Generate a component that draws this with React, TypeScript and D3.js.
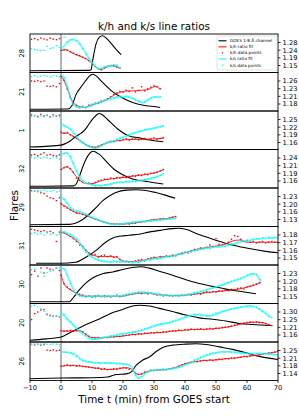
import React from "react";
import * as d3 from "d3";

const W = 299;
const H = 420;
const X0 = 30;
const X1 = 278;
const TOP = 34;
const PH = 38.5;
const FONT = "DejaVu Sans, sans-serif";

const flares = ["28", "21", "1", "32", "29", "31", "30", "20", "26"];
const tickLo = [1.15, 1.18, 1.16, 1.16, 1.13, 1.148, 1.15, 1.16, 1.14];
const tickHi = [1.28, 1.26, 1.25, 1.24, 1.23, 1.18, 1.23, 1.3, 1.25];
const xTicks = [-10, 0, 10, 20, 30, 40, 50, 60, 70];
const legendLabels = ["GOES 1-8 Å channel", "k/h ratio fit", "k/h data points", "k/s ratio fit", "k/s data points"];

type P = [number, number];

// ---------- flare 28 ----------
const goes28: P[] = [[-10, 0], [9, 0.01], [9.7, 0.03], [10.2, 0.28], [10.75, 0.55], [11.3, 0.77], [12.4, 0.96], [13.4, 1.0], [14.5, 0.94], [16.1, 0.79], [17.7, 0.62], [19.4, 0.46]];
const khFit28: P[] = [[0, 1.234], [1.6, 1.239], [3.2, 1.225], [4.8, 1.211], [6.5, 1.2], [8.1, 1.187], [9.7, 1.168], [11.3, 1.14], [12.9, 1.126], [14.5, 1.14], [16.7, 1.149], [18.3, 1.14], [18.8, 1.134]];
const ksFit28: P[] = [[0, 1.243], [1.6, 1.271], [3.2, 1.296], [4.8, 1.294], [5.9, 1.275], [7.5, 1.234], [9.1, 1.187], [10.75, 1.153], [11.8, 1.134], [12.9, 1.133], [14.5, 1.145], [16.1, 1.145], [17.7, 1.153], [18.8, 1.134]];
const khPre28 = [1.298, 1.302, 1.296, 1.305, 1.3, 1.295, 1.304, 1.299, 1.296, 1.302];
const ksPre28 = [1.245, 1.24, 1.236, 1.234, 1.236, 1.258, 1.246, 1.25, 1.262, 1.252];
const khPts28 = [1.236, 1.24, 1.236, 1.228, 1.22, 1.212, 1.206, 1.196, 1.19, 1.178, 1.16, 1.145, 1.132, 1.126, 1.136, 1.145, 1.15, 1.146, 1.14, 1.135];
const ksPts28 = [1.246, 1.31, 1.285, 1.295, 1.298, 1.29, 1.27, 1.245, 1.215, 1.19, 1.165, 1.145, 1.132, 1.135, 1.142, 1.146, 1.148, 1.155, 1.15, 1.136];

// ---------- flare 21 ----------
const goes21: P[] = [[-10, 0], [2.2, 0.005], [3.5, 0.1], [4.8, 0.41], [7, 0.7], [8.6, 0.89], [9.6, 0.98], [10.2, 1.0], [11.2, 0.96], [13.5, 0.76], [16.5, 0.51], [19.9, 0.32], [23.1, 0.19], [27.4, 0.1], [30.6, 0.07], [32, 0.05]];
const khFit21: P[] = [[0, 1.279], [1.1, 1.258], [2.2, 1.229], [3.2, 1.2], [4.3, 1.18], [5.9, 1.171], [7.5, 1.168], [9.1, 1.174], [11.3, 1.181], [13.4, 1.189], [15.6, 1.2], [17.2, 1.212], [18.8, 1.22], [21, 1.225], [24, 1.226], [26, 1.228], [28, 1.23], [29.5, 1.238], [30.5, 1.241], [31.9, 1.232]];
const ksFit21: P[] = [[0, 1.284], [1.1, 1.27], [2.2, 1.235], [3.2, 1.195], [4.3, 1.175], [5.9, 1.168], [8, 1.168], [10.2, 1.176], [12.4, 1.185], [14.5, 1.193], [16.7, 1.199], [19, 1.205], [21, 1.206], [23, 1.2], [25, 1.19], [26.5, 1.185], [28.5, 1.198], [30, 1.204], [31.9, 1.204]];
const khPre21 = [1.26, 1.259, 1.261, 1.258, 1.26, 1.242, 1.241, 1.243, 1.24, 1.251];
const ksPre21 = [1.275, 1.278, 1.274, 1.277, 1.279, 1.276, 1.274, 1.278, 1.277, 1.275];
const khPts21 = [1.276, 1.262, 1.232, 1.205, 1.184, 1.176, 1.17, 1.172, 1.167, 1.176, 1.178, 1.183, 1.182, 1.19, 1.192, 1.198, 1.205, 1.213, 1.218, 1.224, 1.221, 1.228, 1.224, 1.236, 1.222, 1.227, 1.24, 1.226, 1.233, 1.238, 1.244, 1.24, 1.233];
const ksPts21 = [1.283, 1.272, 1.24, 1.2, 1.178, 1.17, 1.166, 1.169, 1.168, 1.172, 1.18, 1.181, 1.187, 1.186, 1.194, 1.195, 1.2, 1.203, 1.205, 1.208, 1.204, 1.207, 1.203, 1.199, 1.193, 1.188, 1.186, 1.188, 1.195, 1.2, 1.206, 1.203, 1.205];

// ---------- flare 1 ----------
const goes1: P[] = [[-10, 0.02], [-5, 0.04], [0, 0.075], [2.6, 0.17], [4.5, 0.3], [5.8, 0.38], [7, 0.45], [8.2, 0.57], [9.5, 0.74], [10.6, 0.86], [11.6, 0.95], [12.4, 0.98], [13.2, 0.95], [15.1, 0.8], [18.4, 0.53], [21.6, 0.35], [25.9, 0.27], [30.2, 0.2], [33, 0.17]];
const khFit1: P[] = [[0, 1.197], [1.6, 1.197], [3.2, 1.19], [4.8, 1.178], [6.45, 1.164], [8.1, 1.151], [9.7, 1.142], [11.3, 1.142], [12.9, 1.149], [14.5, 1.158], [16.7, 1.164], [18.8, 1.168], [21, 1.171], [23.1, 1.172], [25.3, 1.172], [27.4, 1.173], [30.1, 1.174], [33, 1.177]];
const ksFit1: P[] = [[0, 1.233], [1.6, 1.223], [3.2, 1.21], [4.8, 1.187], [6.45, 1.164], [8.1, 1.151], [9.7, 1.142], [11.3, 1.138], [12.9, 1.145], [14.5, 1.158], [16.7, 1.164], [18.8, 1.174], [21, 1.186], [23.1, 1.195], [25.3, 1.203], [27.4, 1.21], [30.1, 1.215], [33, 1.225]];
const khPre1 = [1.268, 1.265, 1.262, 1.27, 1.264, 1.266, 1.261, 1.268, 1.263, 1.267];
const ksPre1 = [1.262, 1.266, 1.258, 1.264, 1.26, 1.267, 1.259, 1.263, 1.265, 1.26];
const khPts1 = [1.2, 1.196, 1.199, 1.19, 1.183, 1.176, 1.168, 1.16, 1.152, 1.147, 1.143, 1.14, 1.146, 1.15, 1.155, 1.16, 1.165, 1.163, 1.17, 1.167, 1.172, 1.175, 1.169, 1.174, 1.177, 1.17, 1.173, 1.176, 1.171, 1.175, 1.178, 1.172, 1.176, 1.179];
const ksPts1 = [1.234, 1.226, 1.22, 1.212, 1.195, 1.18, 1.168, 1.158, 1.15, 1.145, 1.14, 1.136, 1.142, 1.148, 1.155, 1.16, 1.163, 1.168, 1.172, 1.177, 1.18, 1.186, 1.19, 1.196, 1.198, 1.203, 1.206, 1.21, 1.212, 1.214, 1.217, 1.22, 1.222, 1.226];

// ---------- flare 32 ----------
const goes32: P[] = [[-10, 0], [4, 0.01], [4.8, 0.05], [5.9, 0.27], [7, 0.55], [8.1, 0.78], [9.2, 0.93], [10, 0.99], [10.5, 1.0], [11.5, 0.96], [12.4, 0.91], [14.5, 0.72], [17.2, 0.48], [19.9, 0.33], [23.1, 0.21], [27.4, 0.14], [30.1, 0.1], [33, 0.066]];
const khFit32: P[] = [[0, 1.2], [1.6, 1.209], [3.2, 1.2], [4.8, 1.177], [6.45, 1.159], [8.1, 1.151], [10.2, 1.151], [12.4, 1.159], [14.5, 1.165], [16.7, 1.168], [18.8, 1.171], [21, 1.173], [23.1, 1.177], [25.3, 1.18], [27.4, 1.183], [30.1, 1.188], [33, 1.199]];
const ksFit32: P[] = [[0, 1.252], [1.6, 1.258], [2.7, 1.25], [4.3, 1.211], [5.9, 1.177], [7.5, 1.156], [9.7, 1.148], [11.8, 1.144], [14.5, 1.146], [17.7, 1.154], [21, 1.157], [24.2, 1.159], [27.4, 1.165], [30.1, 1.171], [33, 1.184]];
const khPre32 = [1.25, 1.252, 1.248, 1.253, 1.258, 1.25, 1.252, 1.249, 1.247, 1.251];
const ksPre32 = [1.242, 1.24, 1.244, 1.239, 1.243, 1.241, 1.238, 1.245, 1.24, 1.236];
const khPts32 = [1.2, 1.206, 1.21, 1.203, 1.19, 1.17, 1.162, 1.156, 1.152, 1.153, 1.15, 1.155, 1.16, 1.163, 1.166, 1.165, 1.17, 1.168, 1.172, 1.17, 1.174, 1.172, 1.176, 1.178, 1.176, 1.181, 1.179, 1.184, 1.182, 1.187, 1.188, 1.191, 1.195, 1.2];
const ksPts32 = [1.25, 1.256, 1.259, 1.245, 1.222, 1.196, 1.175, 1.16, 1.152, 1.149, 1.146, 1.143, 1.145, 1.144, 1.147, 1.148, 1.15, 1.153, 1.155, 1.156, 1.155, 1.158, 1.157, 1.16, 1.159, 1.161, 1.163, 1.165, 1.166, 1.17, 1.172, 1.176, 1.18, 1.185];

// ---------- flare 29 ----------
const goes29: P[] = [[-10, 0], [2.7, 0.01], [4.8, 0.05], [7, 0.15], [9.1, 0.3], [11.3, 0.49], [13.4, 0.68], [15.6, 0.82], [17.7, 0.92], [21, 0.99], [24.2, 1.0], [27.4, 0.98], [30.6, 0.92], [33.9, 0.84], [36.8, 0.76]];
const khFit29: P[] = [[0, 1.196], [1.6, 1.186], [3.2, 1.171], [4.8, 1.16], [7, 1.153], [9.1, 1.142], [11.3, 1.131], [13.4, 1.12], [15.6, 1.113], [17.7, 1.11], [19.9, 1.11], [22.1, 1.113], [24.2, 1.116], [26.3, 1.12], [28.5, 1.126], [30.6, 1.131], [33.9, 1.133], [36, 1.14], [36.8, 1.142]];
const ksFit29: P[] = [[0, 1.225], [1.1, 1.215], [2.2, 1.196], [3.8, 1.174], [5.9, 1.163], [8.1, 1.153], [10.2, 1.138], [12.4, 1.126], [14.5, 1.116], [16.7, 1.109], [18.8, 1.11], [21, 1.113], [24.2, 1.12], [27.4, 1.122], [30.6, 1.126], [33.9, 1.131], [36, 1.134], [36.8, 1.135]];
const khPre29 = [1.255, 1.254, 1.253, 1.246, 1.243, 1.232, 1.224, 1.221, 1.212, 1.225];
const ksPre29 = [1.252, 1.255, 1.25, 1.254, 1.257, 1.251, 1.253, 1.256, 1.25, 1.254];
const khPts29 = [1.2, 1.188, 1.18, 1.172, 1.165, 1.158, 1.157, 1.152, 1.148, 1.143, 1.138, 1.132, 1.128, 1.122, 1.118, 1.114, 1.112, 1.11, 1.111, 1.108, 1.11, 1.112, 1.11, 1.115, 1.114, 1.118, 1.12, 1.121, 1.124, 1.127, 1.13, 1.128, 1.132, 1.134, 1.132, 1.137, 1.14, 1.143];
const ksPts29 = [1.228, 1.218, 1.2, 1.18, 1.172, 1.166, 1.162, 1.158, 1.152, 1.146, 1.14, 1.133, 1.128, 1.122, 1.118, 1.114, 1.11, 1.108, 1.11, 1.109, 1.112, 1.114, 1.116, 1.118, 1.119, 1.12, 1.122, 1.121, 1.123, 1.125, 1.126, 1.128, 1.127, 1.13, 1.132, 1.131, 1.134, 1.136];

// ---------- flare 31 ----------
const goes31: P[] = [[-8, 0], [0, 0], [4.7, 0.03], [8, 0.17], [11.2, 0.36], [14.4, 0.6], [17.6, 0.75], [21.9, 0.8], [25.2, 0.83], [28.4, 0.89], [32.7, 0.95], [35.9, 0.99], [38, 1.0], [40.2, 0.97], [44.5, 0.82], [49.9, 0.66], [55.3, 0.52], [60.6, 0.42], [66, 0.34], [70, 0.3]];
const khFit31: P[] = [[0, 1.184], [1.8, 1.181], [5, 1.172], [7.2, 1.163], [9.35, 1.154], [12.6, 1.15], [15.8, 1.15], [18, 1.149], [20.1, 1.143], [23.3, 1.143], [26.6, 1.145], [30.9, 1.149], [36.2, 1.151], [40.5, 1.156], [44.8, 1.161], [49.1, 1.164], [53.4, 1.168], [55.6, 1.172], [57.7, 1.173], [59.9, 1.17], [64.2, 1.17], [70, 1.17]];
const ksFit31: P[] = [[0, 1.185], [1.8, 1.183], [5, 1.175], [7.2, 1.162], [9.35, 1.151], [11.5, 1.146], [14.7, 1.143], [18, 1.143], [21.2, 1.143], [24.4, 1.142], [27.6, 1.145], [31.9, 1.148], [36.2, 1.151], [40.5, 1.156], [44.8, 1.16], [49.1, 1.163], [53.4, 1.165], [55.6, 1.168], [59.9, 1.172], [64.2, 1.175], [70, 1.176]];
const khPre31 = [1.188, 1.187, 1.186, 1.185, 1.186, 1.184, 1.185, 1.183, 1.171, 1.184];
const ksPre31 = [1.182, 1.183, 1.181, 1.182, 1.18, 1.183, 1.181, 1.182, 1.18, 1.181];
const khPts31 = [1.185, 1.183, 1.181, 1.178, 1.175, 1.171, 1.166, 1.164, 1.159, 1.155, 1.152, 1.153, 1.149, 1.151, 1.152, 1.15, 1.151, 1.149, 1.15, 1.146, 1.144, 1.143, 1.142, 1.143, 1.144, 1.145, 1.146, 1.144, 1.147, 1.148, 1.149, 1.147, 1.15, 1.149, 1.151, 1.15, 1.152, 1.151, 1.154, 1.155, 1.156, 1.155, 1.158, 1.16, 1.16, 1.162, 1.161, 1.163, 1.166, 1.164, 1.175, 1.167, 1.166, 1.168, 1.17, 1.174, 1.179, 1.178, 1.174, 1.171, 1.172, 1.17, 1.171, 1.169, 1.17, 1.171, 1.169, 1.17, 1.171, 1.17, 1.17];
const ksPts31 = [1.185, 1.184, 1.182, 1.18, 1.177, 1.174, 1.168, 1.162, 1.156, 1.152, 1.149, 1.147, 1.145, 1.144, 1.143, 1.143, 1.142, 1.144, 1.143, 1.142, 1.143, 1.144, 1.142, 1.141, 1.143, 1.142, 1.144, 1.145, 1.146, 1.145, 1.147, 1.148, 1.147, 1.149, 1.15, 1.151, 1.15, 1.152, 1.154, 1.153, 1.155, 1.157, 1.156, 1.158, 1.159, 1.16, 1.161, 1.162, 1.161, 1.163, 1.164, 1.163, 1.165, 1.164, 1.166, 1.168, 1.167, 1.17, 1.171, 1.172, 1.173, 1.172, 1.174, 1.175, 1.174, 1.176, 1.175, 1.177, 1.176, 1.177, 1.176];

// ---------- flare 30 ----------
const goes30: P[] = [[-10, 0], [2.7, 0], [3.8, 0.1], [5.9, 0.34], [8.1, 0.54], [10.2, 0.68], [13.4, 0.8], [16.7, 0.85], [19.9, 0.92], [23.1, 0.98], [25.8, 1.0], [28.5, 0.96], [31.7, 0.87], [36, 0.76], [40.3, 0.63], [44.6, 0.52], [48.9, 0.44], [53.2, 0.36], [57.5, 0.3], [62.9, 0.23]];
const khFit30: P[] = [[0, 1.226], [1.08, 1.191], [2.15, 1.18], [3.76, 1.168], [5.9, 1.156], [8.06, 1.151], [13.4, 1.151], [19.9, 1.151], [22, 1.156], [24.2, 1.16], [26.35, 1.162], [28.5, 1.161], [31.7, 1.156], [34.9, 1.154], [38.2, 1.153], [41.4, 1.156], [44.6, 1.16], [47.9, 1.165], [51.1, 1.168], [54.3, 1.172], [57.5, 1.176], [60.75, 1.185], [62.9, 1.191], [64.5, 1.199]];
const ksFit30: P[] = [[0, 1.249], [1.08, 1.246], [2.15, 1.22], [3.76, 1.18], [4.84, 1.16], [6.45, 1.151], [10, 1.151], [16.7, 1.151], [19.9, 1.152], [23.1, 1.16], [26.35, 1.165], [29.6, 1.161], [32.8, 1.155], [36, 1.153], [39.2, 1.153], [42.5, 1.16], [45.7, 1.168], [48.9, 1.18], [52.2, 1.191], [55.4, 1.203], [58.6, 1.214], [60.75, 1.226], [62.4, 1.229], [63.4, 1.222], [64.5, 1.203]];
const khPre30 = [1.226, 1.238, 1.22, 1.249, 1.232, 1.249, 1.245, 1.243, 1.249, 1.24];
const ksPre30 = [1.243, 1.245, 1.222, 1.235, 1.22, 1.233, 1.238, 1.244, 1.249, 1.25];
const khPts30 = [1.224, 1.195, 1.183, 1.175, 1.17, 1.162, 1.158, 1.155, 1.149, 1.153, 1.148, 1.152, 1.154, 1.149, 1.153, 1.15, 1.148, 1.152, 1.155, 1.149, 1.153, 1.155, 1.157, 1.158, 1.161, 1.163, 1.16, 1.164, 1.159, 1.162, 1.158, 1.155, 1.157, 1.152, 1.155, 1.153, 1.151, 1.154, 1.152, 1.155, 1.154, 1.157, 1.155, 1.159, 1.161, 1.158, 1.163, 1.166, 1.164, 1.167, 1.165, 1.17, 1.168, 1.172, 1.17, 1.175, 1.173, 1.178, 1.18, 1.176, 1.183, 1.186, 1.19, 1.194, 1.198];
const ksPts30 = [1.25, 1.244, 1.225, 1.195, 1.17, 1.158, 1.152, 1.15, 1.147, 1.152, 1.149, 1.146, 1.152, 1.15, 1.148, 1.153, 1.15, 1.152, 1.154, 1.152, 1.155, 1.158, 1.16, 1.162, 1.163, 1.166, 1.165, 1.163, 1.164, 1.16, 1.158, 1.157, 1.155, 1.154, 1.155, 1.152, 1.153, 1.152, 1.155, 1.154, 1.156, 1.158, 1.16, 1.163, 1.165, 1.168, 1.17, 1.174, 1.178, 1.181, 1.184, 1.188, 1.19, 1.195, 1.199, 1.203, 1.206, 1.21, 1.214, 1.218, 1.224, 1.228, 1.23, 1.226, 1.208];

// ---------- flare 20 ----------
const goes20: P[] = [[-10, 0], [-4.8, 0.04], [0, 0.095], [3.8, 0.26], [8.1, 0.45], [12.4, 0.61], [16.7, 0.79], [19.9, 0.88], [23.1, 0.98], [25.3, 1.0], [28.5, 0.98], [31.7, 0.91], [36, 0.82], [40.3, 0.72], [44.6, 0.64], [48.9, 0.6], [53.2, 0.55], [57.5, 0.48], [61.8, 0.45], [67.7, 0.42]];
const khFit20: P[] = [[0, 1.184], [2.7, 1.184], [4.8, 1.186], [6.45, 1.184], [8.06, 1.163], [10.2, 1.143], [13.4, 1.143], [16.7, 1.149], [19.9, 1.153], [23.1, 1.163], [26.35, 1.167], [29.6, 1.173], [32.8, 1.176], [36, 1.184], [39.2, 1.188], [42.5, 1.194], [45.7, 1.194], [48.9, 1.198], [52.2, 1.204], [55.4, 1.214], [58.6, 1.23], [61.8, 1.238], [64, 1.238], [66.1, 1.23], [67.7, 1.218]];
const ksFit20: P[] = [[0, 1.295], [1.6, 1.265], [3.8, 1.224], [5.9, 1.184], [8.06, 1.153], [10.2, 1.133], [12.4, 1.14], [15.6, 1.15], [18.8, 1.163], [22, 1.173], [25.3, 1.184], [28.5, 1.204], [31.7, 1.224], [34.9, 1.234], [38.2, 1.254], [41.4, 1.275], [44.6, 1.285], [47.9, 1.275], [51.1, 1.295], [54.3, 1.315], [57.5, 1.326], [60.75, 1.336], [62.9, 1.33], [65, 1.305], [67.7, 1.265]];
const khPre20 = [1.254, 1.29, 1.3, 1.312, 1.315, 1.285, 1.28, 1.275, 1.276, 1.27];
const ksPre20 = [1.336, 1.34, 1.33, 1.32, 1.305, 1.29, 1.275, 1.272, 1.278, 1.27];
const khPts20 = [1.186, 1.182, 1.185, 1.188, 1.183, 1.187, 1.185, 1.18, 1.165, 1.152, 1.145, 1.142, 1.145, 1.141, 1.146, 1.144, 1.15, 1.147, 1.152, 1.151, 1.156, 1.158, 1.16, 1.165, 1.162, 1.168, 1.166, 1.171, 1.17, 1.174, 1.172, 1.177, 1.175, 1.18, 1.178, 1.183, 1.186, 1.184, 1.19, 1.187, 1.193, 1.19, 1.196, 1.193, 1.195, 1.198, 1.193, 1.197, 1.2, 1.196, 1.202, 1.2, 1.205, 1.208, 1.21, 1.215, 1.22, 1.224, 1.23, 1.233, 1.236, 1.24, 1.237, 1.24, 1.236, 1.234, 1.229, 1.222, 1.217];
const ksPts20 = [1.3, 1.285, 1.26, 1.24, 1.22, 1.2, 1.182, 1.17, 1.155, 1.142, 1.133, 1.135, 1.14, 1.143, 1.146, 1.148, 1.155, 1.157, 1.16, 1.165, 1.168, 1.17, 1.175, 1.178, 1.18, 1.185, 1.19, 1.198, 1.203, 1.21, 1.217, 1.222, 1.228, 1.23, 1.233, 1.238, 1.244, 1.25, 1.255, 1.262, 1.27, 1.276, 1.28, 1.286, 1.284, 1.282, 1.278, 1.275, 1.28, 1.285, 1.293, 1.297, 1.303, 1.308, 1.315, 1.318, 1.322, 1.327, 1.33, 1.334, 1.336, 1.338, 1.334, 1.328, 1.318, 1.305, 1.292, 1.278, 1.266];

// ---------- flare 26 ----------
const goes26: P[] = [[-10, 0], [0, 0.02], [10.2, 0.03], [15, 0.05], [17.7, 0.12], [21, 0.14], [22.6, 0.19], [24.2, 0.38], [26.3, 0.53], [28.5, 0.62], [30.6, 0.77], [32.8, 0.89], [36, 0.96], [40.3, 0.99], [43.5, 1.0], [46.8, 0.98], [51.1, 0.91], [55.4, 0.84], [59.7, 0.74], [64, 0.64], [70, 0.55]];
const khFit26: P[] = [[0, 1.174], [2.7, 1.179], [5.9, 1.176], [9.1, 1.171], [12.4, 1.163], [15.6, 1.159], [18.8, 1.163], [21, 1.168], [22.6, 1.162], [24.2, 1.14], [25.3, 1.135], [26.9, 1.144], [29.6, 1.155], [33.9, 1.159], [37.1, 1.17], [40.3, 1.188], [43.5, 1.197], [46.8, 1.203], [50, 1.205], [53.2, 1.211], [56.5, 1.215], [59.7, 1.222], [62.9, 1.227], [66.1, 1.235], [69.4, 1.243], [70, 1.246]];
const ksFit26: P[] = [[0, 1.243], [2.7, 1.241], [4.8, 1.227], [7, 1.203], [9.1, 1.195], [12.4, 1.19], [15.6, 1.19], [18.8, 1.187], [21, 1.185], [22.6, 1.175], [23.7, 1.147], [24.7, 1.12], [25.8, 1.122], [27.4, 1.142], [29.6, 1.155], [33.9, 1.159], [38.2, 1.171], [42.5, 1.195], [45.7, 1.219], [48.9, 1.235], [52.1, 1.243], [55.4, 1.243], [58.6, 1.238], [61.8, 1.235], [65.1, 1.235], [68.3, 1.233], [69.9, 1.227]];
const khPre26 = [1.279, 1.277, 1.28, 1.276, 1.278, 1.252, 1.25, 1.253, 1.249, 1.251];
const ksPre26 = [1.28, 1.281, 1.279, 1.28, 1.282, 1.28, 1.279, 1.281, 1.28, 1.276];
const khPts26 = [1.176, 1.178, 1.181, 1.177, 1.179, 1.175, 1.178, 1.174, 1.172, 1.17, 1.168, 1.165, 1.167, 1.16, 1.163, 1.158, 1.16, 1.163, 1.161, 1.166, 1.168, 1.165, 1.16, 1.152, 1.142, 1.136, 1.138, 1.147, 1.15, 1.156, 1.154, 1.158, 1.157, 1.16, 1.158, 1.162, 1.164, 1.168, 1.174, 1.18, 1.186, 1.19, 1.195, 1.198, 1.196, 1.2, 1.203, 1.201, 1.205, 1.202, 1.206, 1.209, 1.207, 1.211, 1.21, 1.214, 1.212, 1.216, 1.218, 1.222, 1.22, 1.224, 1.226, 1.225, 1.23, 1.232, 1.236, 1.238, 1.24, 1.243, 1.247];
const ksPts26 = [1.245, 1.242, 1.24, 1.238, 1.232, 1.222, 1.21, 1.202, 1.198, 1.196, 1.193, 1.19, 1.191, 1.188, 1.192, 1.19, 1.188, 1.19, 1.187, 1.189, 1.186, 1.184, 1.178, 1.158, 1.132, 1.118, 1.126, 1.14, 1.148, 1.154, 1.156, 1.155, 1.158, 1.157, 1.16, 1.162, 1.165, 1.168, 1.17, 1.176, 1.182, 1.19, 1.196, 1.205, 1.212, 1.218, 1.225, 1.23, 1.234, 1.238, 1.24, 1.242, 1.244, 1.243, 1.245, 1.242, 1.24, 1.239, 1.238, 1.236, 1.235, 1.236, 1.234, 1.235, 1.236, 1.234, 1.235, 1.233, 1.232, 1.23, 1.227];

const PRE_T0 = -9.5;

const goesAll = [goes28, goes21, goes1, goes32, goes29, goes31, goes30, goes20, goes26];
const khFitAll = [khFit28, khFit21, khFit1, khFit32, khFit29, khFit31, khFit30, khFit20, khFit26];
const ksFitAll = [ksFit28, ksFit21, ksFit1, ksFit32, ksFit29, ksFit31, ksFit30, ksFit20, ksFit26];
const khPreAll = [khPre28, khPre21, khPre1, khPre32, khPre29, khPre31, khPre30, khPre20, khPre26];
const ksPreAll = [ksPre28, ksPre21, ksPre1, ksPre32, ksPre29, ksPre31, ksPre30, ksPre20, ksPre26];
const khPtsAll = [khPts28, khPts21, khPts1, khPts32, khPts29, khPts31, khPts30, khPts20, khPts26];
const ksPtsAll = [ksPts28, ksPts21, ksPts1, ksPts32, ksPts29, ksPts31, ksPts30, ksPts20, ksPts26];

const RED = "#ff0000";
const CYAN = "#00ffff";

function toPairs(pre: number[], post: number[]): P[] {
  return [...pre.map((v, i) => [PRE_T0 + i, v] as P), ...post.map((v, i) => [i, v] as P)];
}

export default function App() {
  const x = d3.scaleLinear().domain([-10, 70]).range([X0, X1]);
  const bottom = TOP + flares.length * PH;

  return (
    <svg width={W} height={H} style={{ display: "block", position: "absolute", left: 0, top: 0, background: "#fff" }} fontFamily={FONT}>
      <rect x={0} y={0} width={W} height={H} fill="#fff" />
      <defs>
        {flares.map((f, i) => (
          <clipPath id={`clip${i}`} key={f}>
            <rect x={X0} y={TOP + i * PH} width={X1 - X0} height={PH} />
          </clipPath>
        ))}
      </defs>
      <text x={154} y={29.5} fontSize={10.4} textAnchor="middle" fill="#000">k/h and k/s line ratios</text>

      {flares.map((f, i) => {
        const T = TOP + i * PH;
        const lo = tickLo[i];
        const hi = tickHi[i];
        const y = d3.scaleLinear().domain([lo, hi]).range([T + 31.5, T + 8.5]);
        const yg = d3.scaleLinear().domain([-0.05, 1.05]).range([T + PH, T]);
        const goesLine = d3.line<P>().x((d) => x(d[0])).y((d) => yg(d[1])).curve(d3.curveMonotoneX);
        const fitLine = d3.line<P>().x((d) => x(d[0])).y((d) => y(d[1])).curve(d3.curveMonotoneX);
        const kh = toPairs(khPreAll[i], khPtsAll[i]);
        const ks = toPairs(ksPreAll[i], ksPtsAll[i]);
        const ticks = [0, 1, 2, 3].map((k) => lo + (k * (hi - lo)) / 3);
        return (
          <g key={f}>
            <g clipPath={`url(#clip${i})`}>
              <line x1={x(0)} x2={x(0)} y1={T} y2={T + PH} stroke="#808080" strokeWidth={1.2} />
              <path d={goesLine(goesAll[i]) || ""} fill="none" stroke="#000" strokeWidth={1.1} />
              <path d={fitLine(khFitAll[i]) || ""} fill="none" stroke={RED} strokeWidth={1} strokeOpacity={0.85} />
              {kh.map((d, j) => (
                <rect key={`r${j}`} x={x(d[0]) - 0.7} y={y(d[1]) - 0.7} width={1.4} height={1.4} fill={RED} />
              ))}
              <path d={fitLine(ksFitAll[i]) || ""} fill="none" stroke={CYAN} strokeWidth={1.8} strokeOpacity={0.6} />
              {ks.map((d, j) => (
                <rect key={`c${j}`} x={x(d[0]) - 0.7} y={y(d[1]) - 0.7} width={1.4} height={1.4} fill={CYAN} />
              ))}
            </g>
            <rect x={X0} y={T} width={X1 - X0} height={PH} fill="none" stroke="#000" strokeWidth={0.9} />
            {ticks.map((t, k) => (
              <g key={k}>
                <line x1={X1} x2={X1 + 2.5} y1={y(t)} y2={y(t)} stroke="#000" strokeWidth={0.8} />
                <text x={X1 + 4.5} y={y(t) + 2.4} fontSize={6.7} fill="#000">{t.toFixed(2)}</text>
              </g>
            ))}
            <text transform={`translate(${24.2},${T + PH / 2}) rotate(-90)`} textAnchor="middle" fontSize={6.7} fill="#000">{f}</text>
          </g>
        );
      })}

      {xTicks.map((t) => (
        <g key={t}>
          <line x1={x(t)} x2={x(t)} y1={bottom} y2={bottom + 2.5} stroke="#000" strokeWidth={0.8} />
          <text x={x(t)} y={bottom + 9.5} fontSize={6.7} textAnchor="middle" fill="#000">{t < 0 ? `\u2212${Math.abs(t)}` : `${t}`}</text>
        </g>
      ))}
      <text x={154} y={402.5} fontSize={10.4} textAnchor="middle" fill="#000">Time t (min) from GOES start</text>
      <text transform={`translate(17.6,205.5) rotate(-90)`} fontSize={10.4} textAnchor="middle" fill="#000">Flares</text>

      {/* legend */}
      <g>
        <rect x={217} y={36} width={60} height={34} rx={1} fill="#fff" fillOpacity={0.85} stroke="#ccc" strokeWidth={0.6} />
        {legendLabels.map((lab, k) => {
          const cy = 40.8 + k * 6.05;
          return (
            <g key={lab}>
              {k === 0 && <line x1={218.5} x2={226.5} y1={cy} y2={cy} stroke="#000" strokeWidth={1.1} />}
              {k === 1 && <line x1={218.5} x2={226.5} y1={cy} y2={cy} stroke={RED} strokeWidth={1} />}
              {k === 2 && <rect x={221.8} y={cy - 0.6} width={1.2} height={1.2} fill={RED} />}
              {k === 3 && <line x1={218.5} x2={226.5} y1={cy} y2={cy} stroke={CYAN} strokeOpacity={0.6} strokeWidth={1.8} />}
              {k === 4 && <rect x={221.8} y={cy - 0.6} width={1.2} height={1.2} fill={CYAN} />}
              <text x={230} y={cy + 1.5} fontSize={4.2} fill="#000">{lab}</text>
            </g>
          );
        })}
      </g>
    </svg>
  );
}
